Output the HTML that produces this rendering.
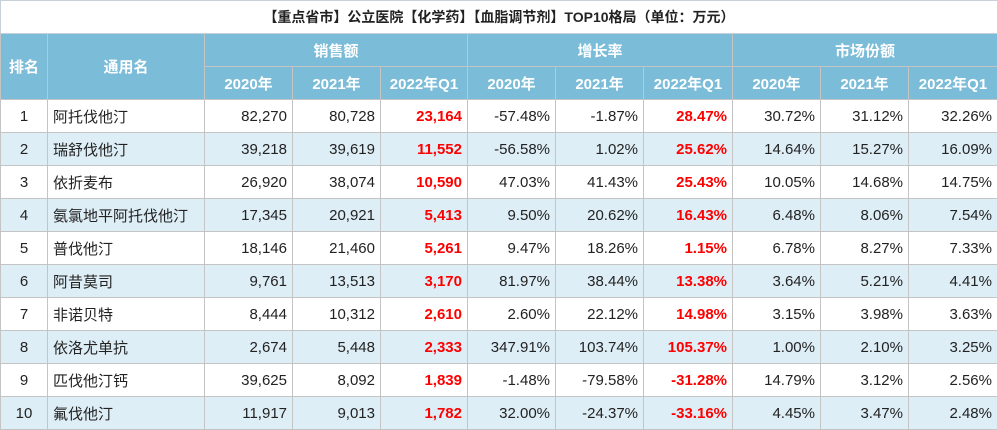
<!DOCTYPE html><html><head><meta charset="utf-8"><style>
body{margin:0;width:997px;height:430px;overflow:hidden;background:#fff;font-family:"Liberation Sans","Noto Sans CJK SC",sans-serif;}
table{border-collapse:collapse;table-layout:fixed;position:absolute;left:0;top:0;width:997px;}
td{border:1px solid #c4c4c4;padding:0 5px;font-size:15px;color:#222;height:32px;white-space:nowrap;overflow:hidden;}
.t td{border-color:#c8d0dc;text-align:center;font-weight:bold;font-size:14px;}
.h td{background:#7bbcd9;color:#fff;font-weight:bold;text-align:center;font-size:15px;}
tr.a td{background:#deeef6;}
.c{text-align:center}.r{text-align:right}.red{color:#f00;font-weight:bold;text-align:right}
</style></head><body>
<table>
<colgroup><col style="width:47px"><col style="width:157px"><col style="width:88px"><col style="width:88px"><col style="width:87px"><col style="width:88px"><col style="width:88px"><col style="width:89px"><col style="width:88px"><col style="width:88px"><col style="width:89px"></colgroup>
<tr class="t"><td colspan="11">【重点省市】公立医院【化学药】【血脂调节剂】TOP10格局（单位：万元）</td></tr>
<tr class="h"><td rowspan="2">排名</td><td rowspan="2">通用名</td><td colspan="3">销售额</td><td colspan="3">增长率</td><td colspan="3">市场份额</td></tr>
<tr class="h"><td>2020年</td><td>2021年</td><td>2022年Q1</td><td>2020年</td><td>2021年</td><td>2022年Q1</td><td>2020年</td><td>2021年</td><td>2022年Q1</td></tr>
<tr><td class="c">1</td><td>阿托伐他汀</td><td class="r">82,270</td><td class="r">80,728</td><td class="red">23,164</td><td class="r">-57.48%</td><td class="r">-1.87%</td><td class="red">28.47%</td><td class="r">30.72%</td><td class="r">31.12%</td><td class="r">32.26%</td></tr>
<tr class="a"><td class="c">2</td><td>瑞舒伐他汀</td><td class="r">39,218</td><td class="r">39,619</td><td class="red">11,552</td><td class="r">-56.58%</td><td class="r">1.02%</td><td class="red">25.62%</td><td class="r">14.64%</td><td class="r">15.27%</td><td class="r">16.09%</td></tr>
<tr><td class="c">3</td><td>依折麦布</td><td class="r">26,920</td><td class="r">38,074</td><td class="red">10,590</td><td class="r">47.03%</td><td class="r">41.43%</td><td class="red">25.43%</td><td class="r">10.05%</td><td class="r">14.68%</td><td class="r">14.75%</td></tr>
<tr class="a"><td class="c">4</td><td>氨氯地平阿托伐他汀</td><td class="r">17,345</td><td class="r">20,921</td><td class="red">5,413</td><td class="r">9.50%</td><td class="r">20.62%</td><td class="red">16.43%</td><td class="r">6.48%</td><td class="r">8.06%</td><td class="r">7.54%</td></tr>
<tr><td class="c">5</td><td>普伐他汀</td><td class="r">18,146</td><td class="r">21,460</td><td class="red">5,261</td><td class="r">9.47%</td><td class="r">18.26%</td><td class="red">1.15%</td><td class="r">6.78%</td><td class="r">8.27%</td><td class="r">7.33%</td></tr>
<tr class="a"><td class="c">6</td><td>阿昔莫司</td><td class="r">9,761</td><td class="r">13,513</td><td class="red">3,170</td><td class="r">81.97%</td><td class="r">38.44%</td><td class="red">13.38%</td><td class="r">3.64%</td><td class="r">5.21%</td><td class="r">4.41%</td></tr>
<tr><td class="c">7</td><td>非诺贝特</td><td class="r">8,444</td><td class="r">10,312</td><td class="red">2,610</td><td class="r">2.60%</td><td class="r">22.12%</td><td class="red">14.98%</td><td class="r">3.15%</td><td class="r">3.98%</td><td class="r">3.63%</td></tr>
<tr class="a"><td class="c">8</td><td>依洛尤单抗</td><td class="r">2,674</td><td class="r">5,448</td><td class="red">2,333</td><td class="r">347.91%</td><td class="r">103.74%</td><td class="red">105.37%</td><td class="r">1.00%</td><td class="r">2.10%</td><td class="r">3.25%</td></tr>
<tr><td class="c">9</td><td>匹伐他汀钙</td><td class="r">39,625</td><td class="r">8,092</td><td class="red">1,839</td><td class="r">-1.48%</td><td class="r">-79.58%</td><td class="red">-31.28%</td><td class="r">14.79%</td><td class="r">3.12%</td><td class="r">2.56%</td></tr>
<tr class="a"><td class="c">10</td><td>氟伐他汀</td><td class="r">11,917</td><td class="r">9,013</td><td class="red">1,782</td><td class="r">32.00%</td><td class="r">-24.37%</td><td class="red">-33.16%</td><td class="r">4.45%</td><td class="r">3.47%</td><td class="r">2.48%</td></tr>
</table>
</body></html>
